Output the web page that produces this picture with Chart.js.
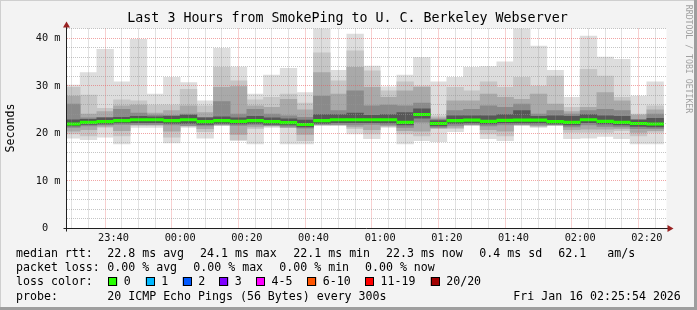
<!DOCTYPE html>
<html lang="en">
<head>
<meta charset="UTF-8">
<title>SmokePing - U. C. Berkeley Webserver</title>
<script src="https://cdn.jsdelivr.net/npm/chart.js"></script>
<style>
  html, body { margin: 0; padding: 0; background: #f3f3f3; }
  canvas { display: block; }
</style>
</head>
<body>
<canvas id="smoke" width="697" height="310"></canvas>
<script>
// 5 minute slots (start of each interval)
const slots = ['23:25','23:30','23:35','23:40','23:45','23:50','23:55','00:00','00:05','00:10','00:15','00:20',
               '00:25','00:30','00:35','00:40','00:45','00:50','00:55','01:00','01:05','01:10','01:15','01:20',
               '01:25','01:30','01:35','01:40','01:45','01:50','01:55','02:00','02:05','02:10','02:15','02:20'];

// smoke bands, ms (outer -> inner)
const maxRtt  = [30.2,32.8,37.7,30.9,39.8,28.3,31.8,30.7,26.9,37.9,34.0,28.3,32.3,33.7,28.6,42.5,33.3,40.9,
                 34.2,29.8,32.3,36.0,30.9,31.8,33.9,34.1,35.1,42.5,38.4,33.3,27.6,40.5,36.1,35.6,27.9,30.9];
const upper1  = [29.7,28.1,25.3,27.1,26.9,26.0,26.0,29.3,25.8,33.9,31.1,27.1,27.6,28.3,26.4,37.0,31.1,37.4,
                 33.2,29.0,30.9,30.0,23.7,29.7,29.0,30.9,29.7,31.8,30.0,32.1,25.5,33.5,32.1,27.6,24.1,25.8];
const upper2  = [27.9,24.1,24.6,25.8,26.0,24.3,24.8,25.8,24.4,29.7,29.9,25.8,25.5,27.2,25.0,32.8,28.3,33.9,
                 29.7,27.6,29.0,29.7,23.3,26.9,26.9,28.3,27.6,27.2,28.3,26.2,24.6,25.5,28.6,26.9,23.9,25.0];
const upper3  = [26.2,23.3,23.4,25.1,24.3,23.9,23.8,24.1,23.4,26.7,24.1,25.1,24.1,23.7,23.4,27.9,24.8,29.0,
                 25.8,26.0,25.8,26.4,23.0,24.8,25.1,25.8,25.5,26.2,24.1,24.8,24.1,24.8,25.1,24.8,23.0,24.1];
const coreHi  = [22.9,23.0,23.3,23.4,23.6,23.5,23.6,23.9,23.3,23.5,23.3,23.6,23.3,23.1,22.8,24.0,24.0,24.3,
                 23.8,24.0,24.4,25.2,22.7,23.7,23.7,23.7,24.0,24.8,23.6,23.7,23.6,24.0,23.7,23.6,22.8,23.2];
const median  = [22.0,22.35,22.5,22.7,22.9,22.9,22.7,22.9,22.5,22.7,22.55,22.7,22.5,22.3,21.9,22.7,22.9,22.9,
                 22.9,22.9,22.35,24.0,22.1,22.7,22.8,22.55,22.75,22.8,22.8,22.5,22.35,22.9,22.55,22.35,22.1,22.0];
const coreLo  = [21.6,21.9,22.0,22.2,22.3,22.3,22.1,22.1,21.9,22.1,22.0,22.1,21.9,21.8,21.4,22.1,22.3,22.3,
                 22.3,22.2,21.8,23.2,21.6,22.1,22.2,22.0,22.2,22.2,22.2,22.0,21.8,22.3,22.0,21.8,21.5,21.4];
const lower3  = [21.3,21.6,21.8,21.9,21.9,21.9,21.8,21.7,21.6,21.9,21.7,21.8,21.7,21.5,21.1,21.9,21.9,21.8,
                 21.9,21.8,21.3,22.4,21.3,21.7,21.9,21.6,21.8,21.9,21.8,21.8,21.4,21.8,21.5,21.4,21.0,21.0];
const lower2  = [20.5,20.8,21.5,20.6,21.8,21.8,20.5,21.6,21.0,21.8,19.8,21.4,21.6,21.2,19.8,21.8,21.8,21.4,
                 20.8,21.6,20.6,20.5,21.1,21.3,21.8,20.8,20.5,21.8,21.6,21.8,20.8,20.9,20.9,21.0,20.2,20.6];
const lower1  = [19.9,19.5,21.3,19.5,21.7,21.7,19.2,21.6,20.4,21.7,18.7,21.0,21.6,21.6,18.5,21.8,21.8,21.0,
                 19.9,21.5,19.9,19.5,21.0,21.0,21.8,19.9,19.5,21.8,21.5,21.8,20.2,20.2,20.2,20.6,19.5,20.2];
const minRtt  = [19.0,18.7,19.2,17.8,21.3,21.3,18.0,21.3,19.0,21.7,18.5,17.8,21.3,17.8,17.8,21.7,21.7,19.9,
                 18.9,21.3,17.8,18.5,18.3,20.4,21.7,18.9,18.5,21.7,21.3,21.7,18.9,19.0,19.4,18.9,17.8,17.8];

const xLabels = ['23:40','00:00','00:20','00:40','01:00','01:20','01:40','02:00','02:20'];
const yLabels = [0, 10, 20, 30, 40];

const lossLabels = ['0','1','2','3','4-5','6-10','11-19','20/20'];
const lossColors = ['#26ff00','#00b8ff','#0059ff','#7e00ff','#ff00ff','#ff5500','#ff0000','#a10000'];

const startTime = '23:25:54', endTime = '02:25:54';

function toMin(s) {
  const p = s.split(':').map(Number);
  const h = p[0] >= 12 ? p[0] - 23 : p[0] + 1;
  return h * 60 + p[1] + (p[2] || 0) / 60;
}
function fmtMin(v) {
  const t = 23 * 60 + Math.round(v);
  const h = Math.floor(t / 60) % 24, m = t % 60;
  return String(h).padStart(2, '0') + ':' + String(m).padStart(2, '0');
}

const centers = slots.map(s => toMin(s) + 2.5);
const band = (lo, hi) => centers.map((x, i) => ({ x: x, y: [lo[i], hi[i]] }));

const layers = [
  { lo: minRtt, hi: maxRtt, color: '#dddddd' },
  { lo: lower1, hi: upper1, color: '#c6c6c6' },
  { lo: lower2, hi: upper2, color: '#a9a9a9' },
  { lo: lower3, hi: upper3, color: '#8a8a8a' },
  { lo: coreLo, hi: coreHi, color: '#575757' }
];

const medLo = median.map(v => v - 0.26), medHi = median.map(v => v + 0.26);

// dataset 0 is painted last in Chart.js, so inner layers come first
const datasets = [{ data: band(medLo, medHi), backgroundColor: lossColors[0] }]
  .concat(layers.slice().reverse().map(l => ({ data: band(l.lo, l.hi), backgroundColor: l.color })))
  .map(d => Object.assign(d, { grouped: false, barPercentage: 1, categoryPercentage: 1, borderWidth: 0 }));

const MONO = "'DejaVu Sans Mono', monospace";
const minorGrid = 'rgba(150,150,150,0.55)';
const majorGrid = 'rgba(230,90,90,0.55)';
const tickVal = c => (c.tick ? c.tick.value : NaN);

const frame = {
  id: 'frame',
  beforeDraw(chart) {
    const { ctx, chartArea: a } = chart;
    ctx.save();
    ctx.fillStyle = '#f3f3f3';
    ctx.fillRect(0, 0, 697, 310);
    ctx.fillStyle = '#cfcfcf';
    ctx.fillRect(0, 0, 697, 1);
    ctx.fillRect(0, 0, 1, 310);
    ctx.fillStyle = '#9e9e9e';
    ctx.fillRect(0, 307, 697, 3);
    ctx.fillRect(694, 0, 3, 310);
    ctx.fillStyle = '#ffffff';
    ctx.fillRect(a.left, a.top, a.right - a.left, a.bottom - a.top);
    ctx.restore();
  },
  afterDraw(chart) {
    const { ctx, chartArea: a } = chart;
    ctx.save();
    // axes
    ctx.strokeStyle = '#202020';
    ctx.lineWidth = 1;
    ctx.beginPath();
    ctx.moveTo(a.left - 3, a.bottom);
    ctx.lineTo(a.right + 3, a.bottom);
    ctx.moveTo(a.left, a.bottom + 3);
    ctx.lineTo(a.left, a.top - 3);
    ctx.stroke();
    ctx.fillStyle = '#992222';
    ctx.beginPath();
    ctx.moveTo(a.right + 1, a.bottom - 3.5);
    ctx.lineTo(a.right + 7, a.bottom);
    ctx.lineTo(a.right + 1, a.bottom + 3.5);
    ctx.fill();
    ctx.beginPath();
    ctx.moveTo(a.left - 3.5, a.top - 1);
    ctx.lineTo(a.left, a.top - 7);
    ctx.lineTo(a.left + 3.5, a.top - 1);
    ctx.fill();

    ctx.fillStyle = '#000';
    ctx.textBaseline = 'middle';
    ctx.textAlign = 'center';
    ctx.font = '13.3px ' + MONO;
    ctx.fillText('Last 3 Hours from SmokePing to U. C. Berkeley Webserver', 347.5, 19);

    ctx.font = '11.6px ' + MONO;
    ctx.save();
    ctx.translate(10.5, 128);
    ctx.rotate(-Math.PI / 2);
    ctx.fillText('Seconds', 0, 0);
    ctx.restore();

    ctx.save();
    ctx.fillStyle = '#a0a0a0';
    ctx.font = '8.2px ' + MONO;
    ctx.translate(688, 59);
    ctx.rotate(Math.PI / 2);
    ctx.fillText('RRDTOOL / TOBI OETIKER', 0, 0);
    ctx.restore();

    ctx.textAlign = 'left';
    ctx.font = '11.6px ' + MONO;
    const rows = [
      [254, [['median rtt:', 16], ['22.8 ms avg', 107.3], ['24.1 ms max', 200], ['22.1 ms min', 293.3],
             ['22.3 ms now', 386], ['0.4 ms sd', 479.3], ['62.1', 558.3], ['am/s', 607.3]]],
      [268.3, [['packet loss:', 16], ['0.00 % avg', 107.3], ['0.00 % max', 193.3], ['0.00 % min', 279.3],
               ['0.00 % now', 365]]],
      [281.7, [['loss color:', 16]]],
      [296.7, [['probe:', 16], ['20 ICMP Echo Pings (56 Bytes) every 300s', 107.3],
               ['Fri Jan 16 02:25:54 2026', 513.3]]]
    ];
    rows.forEach(([y, items]) => items.forEach(([t, x]) => ctx.fillText(t, x, y)));

    const boxX = [108.3, 145.7, 182.7, 219.3, 256, 307.3, 365, 430.7];
    lossLabels.forEach((lab, i) => {
      ctx.fillStyle = lossColors[i];
      ctx.fillRect(boxX[i], 277, 9, 9);
      ctx.strokeStyle = '#000';
      ctx.strokeRect(Math.round(boxX[i]) + 0.5, 277.5, 8, 8);
      ctx.fillStyle = '#000';
      ctx.fillText(lab, boxX[i] + 15.5, 281.7);
    });
    ctx.restore();
  }
};

new Chart(document.getElementById('smoke'), {
  type: 'bar',
  data: { datasets: datasets },
  plugins: [frame],
  options: {
    responsive: false,
    animation: false,
    devicePixelRatio: 1,
    layout: { padding: { top: 28.5, right: 30.5, bottom: 0, left: 0 } },
    plugins: { legend: { display: false }, tooltip: { enabled: false } },
    scales: {
      x: {
        type: 'linear',
        offset: false,
        min: toMin(startTime),
        max: toMin(endTime),
        afterBuildTicks(s) {
          const t = [];
          for (let v = Math.ceil(s.min / 5) * 5; v <= s.max; v += 5) t.push({ value: v });
          s.ticks = t;
        },
        afterFit(s) { s.height = 81.5; },
        grid: {
          z: 1,
          drawTicks: false,
          color: c => (xLabels.includes(fmtMin(tickVal(c))) ? majorGrid : minorGrid)
        },
        border: { display: false, dash: [1, 1] },
        ticks: {
          autoSkip: false,
          maxRotation: 0,
          padding: 4,
          color: '#111',
          font: { family: MONO, size: 10.3 },
          callback: v => (xLabels.includes(fmtMin(v)) ? fmtMin(v) : '')
        }
      },
      y: {
        min: 0,
        max: 42.1,
        afterBuildTicks(s) {
          const t = [];
          for (let v = 0; v <= 42; v += 2) t.push({ value: v });
          s.ticks = t;
        },
        afterFit(s) { s.width = 66.5; },
        grid: {
          z: 1,
          drawTicks: false,
          color: c => (tickVal(c) === 0 ? 'rgba(0,0,0,0)' :
                       yLabels.includes(tickVal(c)) ? majorGrid : minorGrid)
        },
        border: { display: false, dash: [1, 1] },
        ticks: {
          autoSkip: false,
          padding: 6,
          color: '#111',
          font: { family: MONO, size: 10.3 },
          callback: v => (yLabels.includes(v) ? (v === 0 ? '0  ' : v + ' m') : '')
        }
      }
    }
  }
});
</script>
</body>
</html>
